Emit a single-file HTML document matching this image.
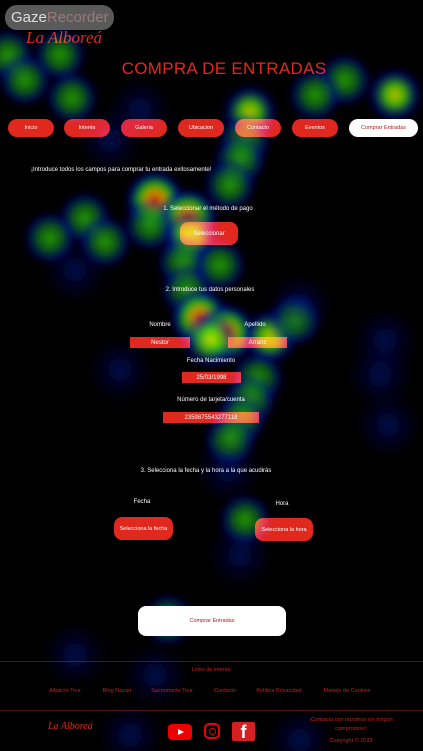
<!DOCTYPE html>
<html><head><meta charset="utf-8"><style>
*{margin:0;padding:0;box-sizing:border-box}
body{width:423px;height:751px;background:#000;position:relative;overflow:hidden;font-family:"Liberation Sans",sans-serif;color:#fff}
.a{position:absolute}
.t{position:absolute;white-space:nowrap;font-size:6px;transform:translateX(-50%)}
.nav{position:absolute;top:119px;height:18px;width:46px;border-radius:9px;background:#e0281e;color:#fff;font-size:5.5px;display:flex;align-items:center;justify-content:center}
.inp{position:absolute;height:11px;background:#e0281e;color:#fff;font-size:6px;display:flex;align-items:center;justify-content:center}
.btn{position:absolute;background:#e0281e;border-radius:8px;color:#fff;font-size:6px;display:flex;align-items:center;justify-content:center}
.lnk{position:absolute;top:688px;font-size:5.5px;color:#c8201a;transform:translateX(-50%);white-space:nowrap}
#heat{position:absolute;left:0;top:0;width:423px;height:751px;pointer-events:none}
</style></head><body>
<div class="a" style="left:26px;top:28px;width:95px;height:26px;font-family:'Liberation Serif',serif;font-style:italic;font-size:17px;color:#e0281e">La Alboreá</div>
<div class="a" style="left:5px;top:5px;width:109px;height:25px;border-radius:12px;background:rgba(120,120,120,.75);font-size:15px;line-height:25px;padding-left:6px;color:#ddd">Gaze<span style="color:#9a7a7a">Recorder</span></div>
<div class="t" style="left:224px;top:59px;font-size:17px;color:#e0281e;letter-spacing:0.3px">COMPRA DE ENTRADAS</div>
<div class="nav" style="left:8px">Inicio</div>
<div class="nav" style="left:64px">Interés</div>
<div class="nav" style="left:121px">Galeria</div>
<div class="nav" style="left:178px">Ubicacion</div>
<div class="nav" style="left:235px">Contacto</div>
<div class="nav" style="left:292px">Eventos</div>
<div class="nav" style="left:349px;width:69px;background:#fff;color:#b02020">Comprar Entradas</div>
<div class="a" style="left:31px;top:167px;font-size:6px;white-space:nowrap">¡Introduce todos los campos para comprar tu entrada exitosamente!</div>
<div class="t" style="left:208px;top:206px">1. Seleccionar el método de pago</div>
<div class="btn" style="left:180px;top:222px;width:58px;height:23px">Seleccionar</div>
<div class="t" style="left:210px;top:287px">2. Introduce tus datos personales</div>
<div class="t" style="left:160px;top:322px">Nombre</div>
<div class="t" style="left:255px;top:322px">Apellido</div>
<div class="inp" style="left:130px;top:337px;width:60px">Nestor</div>
<div class="inp" style="left:228px;top:337px;width:59px">Arranz</div>
<div class="t" style="left:211px;top:358px">Fecha Nacimiento</div>
<div class="inp" style="left:182px;top:372px;width:59px">25/03/1998</div>
<div class="t" style="left:211px;top:397px">Número de tarjeta/cuenta</div>
<div class="inp" style="left:163px;top:412px;width:96px">2359875543277118</div>
<div class="t" style="left:206px;top:468px">3. Selecciona la fecha y la hora a la que acudirás</div>
<div class="t" style="left:142px;top:499px">Fecha</div>
<div class="t" style="left:282px;top:501px">Hora</div>
<div class="btn" style="left:114px;top:517px;width:59px;height:23px;font-size:5.5px">Selecciona la fecha</div>
<div class="btn" style="left:255px;top:518px;width:58px;height:23px;font-size:5.5px">Selecciona la hora</div>
<div class="btn" style="left:138px;top:606px;width:148px;height:30px;background:#fff;color:#b02020;font-size:5.5px">Comprar Entradas</div>
<div class="a" style="left:0;top:661px;width:423px;height:1px;background:#5a1010"></div>
<div class="t" style="left:212px;top:667px;font-size:5.5px;color:#c8201a">Links de interés:</div>
<div class="lnk" style="left:65px">Albaicín Tour</div>
<div class="lnk" style="left:117px">Blog Nazarí</div>
<div class="lnk" style="left:172px">Sacromonte Tour</div>
<div class="lnk" style="left:225px">Contacto</div>
<div class="lnk" style="left:279px">Política Privacidad</div>
<div class="lnk" style="left:347px">Manejo de Cookies</div>
<div class="a" style="left:0;top:710px;width:423px;height:1px;background:#5a1010"></div>
<div class="a" style="left:48px;top:721px;font-family:'Liberation Serif',serif;font-style:italic;font-size:10px;color:#e0281e">La Alboreá</div>
<div class="a" style="left:168px;top:724px;width:24px;height:16px;background:#e00;border-radius:4px"><div style="position:absolute;left:10px;top:5px;border-left:6px solid #fff;border-top:3px solid transparent;border-bottom:3px solid transparent"></div></div>
<div class="a" style="left:204px;top:723px;width:16px;height:16px;border:2px solid #e00;border-radius:5px"><div style="position:absolute;left:2.5px;top:2.5px;width:7px;height:7px;border:1.5px solid #e00;border-radius:50%"></div></div>
<div class="a" style="left:232px;top:722px;width:23px;height:19px;background:#d42020;border-radius:2px;color:#fff;font-weight:bold;font-size:18px;text-align:center;line-height:21px">f</div>
<div class="t" style="left:351px;top:716px;font-size:5.5px;color:#c8201a;text-align:center;white-space:normal;width:110px;line-height:9px">¡Contacta con nosotros sin ningún compromiso!</div>
<div class="t" style="left:351px;top:738px;font-size:5.5px;color:#c8201a">Copyright © 2023</div>
<svg id="heat" width="423" height="751">
<defs>
<radialGradient id="g3"><stop offset="0" stop-color="#ff2000"/><stop offset=".25" stop-color="#ffb000"/><stop offset=".5" stop-color="#20d000"/><stop offset=".75" stop-color="#0010a0" stop-opacity=".7"/><stop offset="1" stop-color="#000060" stop-opacity="0"/></radialGradient>
<radialGradient id="g2"><stop offset="0" stop-color="#f0f000"/><stop offset=".35" stop-color="#40d000"/><stop offset=".7" stop-color="#0010a0" stop-opacity=".6"/><stop offset="1" stop-color="#000060" stop-opacity="0"/></radialGradient>
<radialGradient id="g1"><stop offset="0" stop-color="#30c000"/><stop offset=".45" stop-color="#108020" stop-opacity=".8"/><stop offset=".75" stop-color="#0010a0" stop-opacity=".5"/><stop offset="1" stop-color="#000060" stop-opacity="0"/></radialGradient>
<radialGradient id="g0"><stop offset="0" stop-color="#0020c0" stop-opacity=".5"/><stop offset="1" stop-color="#000060" stop-opacity="0"/></radialGradient>
<filter id="bl"><feGaussianBlur stdDeviation="3"/></filter>
</defs>
<g id="blobs" style="mix-blend-mode:screen" filter="url(#bl)"></g>
</svg>
<script>
const blobX=[8,60,25,72,250,245,240,230,395,345,315,140,110,155,188,150,190,85,50,105,183,187,220,200,226,210,270,295,258,250,240,230,228,245,240,385,380,388,300,120,75,168,75,155,130,300];
const blobY=[55,55,80,98,112,140,160,185,95,80,95,110,140,200,218,225,238,218,238,242,262,290,265,318,333,340,337,320,378,400,420,440,470,520,555,340,375,425,305,370,270,620,655,675,735,740];
const blobLevel=[1,1,1,1,2,1,1,1,2,1,1,0,0,3,3,1,2,1,1,1,1,1,1,3,3,2,2,1,1,1,1,1,0,1,0,0,0,0,0,0,0,1,0,0,0,0];
const g=document.getElementById('blobs');
const radii=[34,28,30,32];
for(let i=0;i<blobX.length;i++){
  const c=document.createElementNS('http://www.w3.org/2000/svg','circle');
  
  
  c.setAttribute('cx',blobX[i]);c.setAttribute('cy',blobY[i]);
  c.setAttribute('r',radii[blobLevel[i]]);
  c.setAttribute('fill','url(#g'+blobLevel[i]+')');
  c.setAttribute('opacity','0.8');
  g.appendChild(c);
}
</script>
</body></html>
